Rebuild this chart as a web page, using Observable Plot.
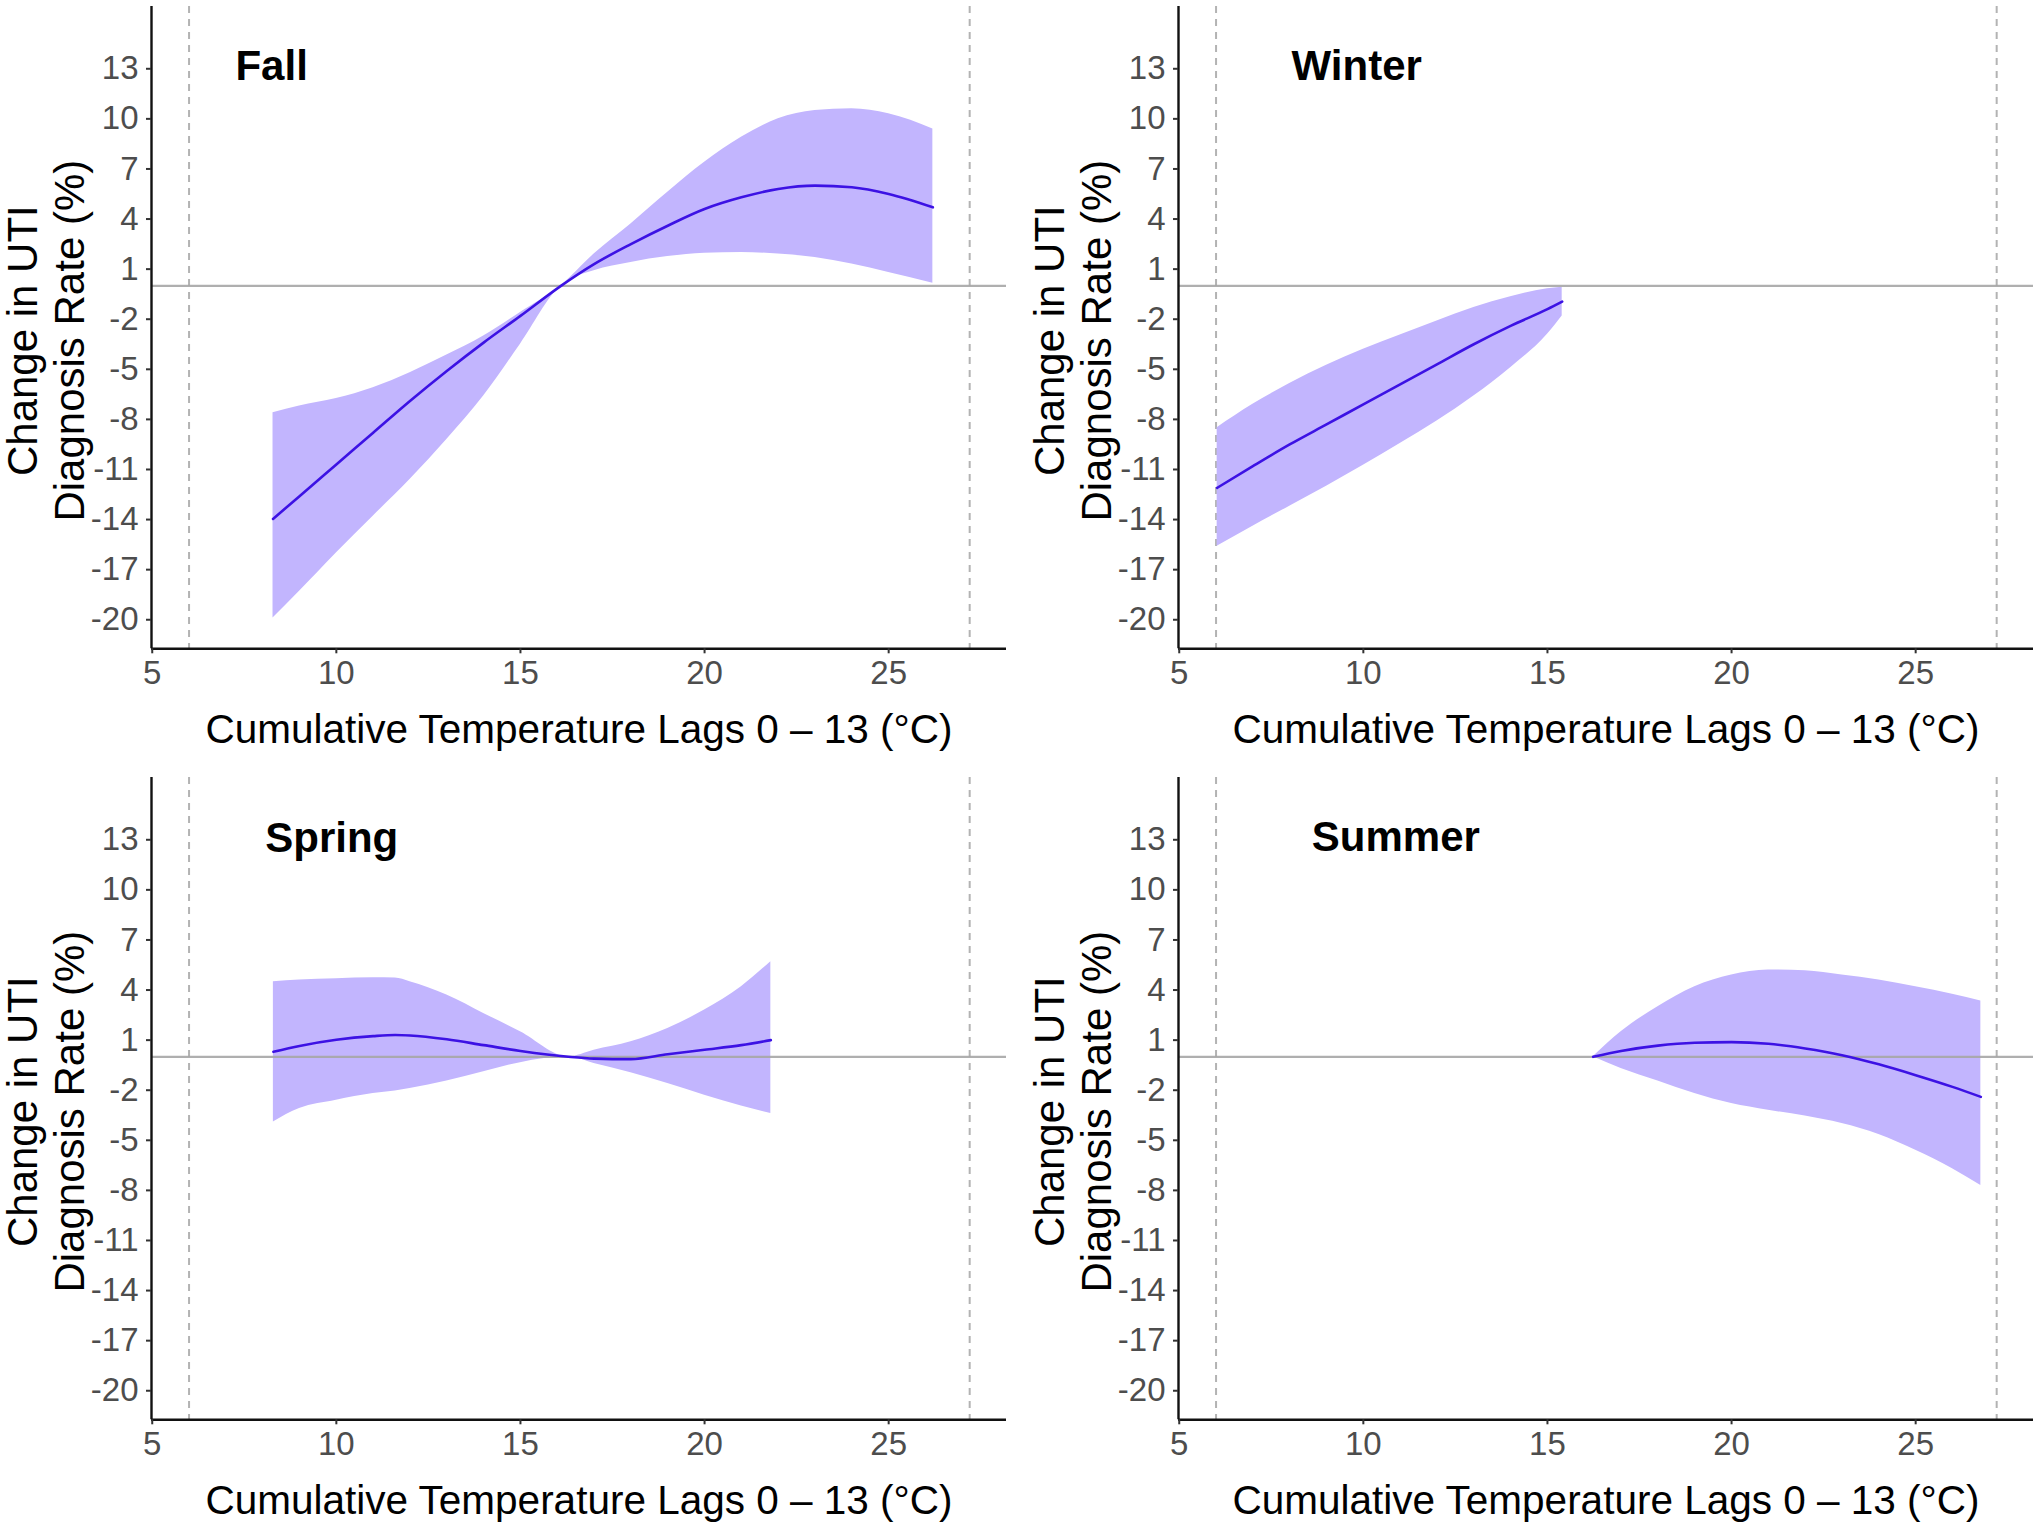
<!DOCTYPE html>
<html>
<head>
<meta charset="utf-8">
<script src="https://cdn.jsdelivr.net/npm/d3@7"></script>
<script src="https://cdn.jsdelivr.net/npm/@observablehq/plot@0.6"></script>
<style>
  html, body { margin: 0; padding: 0; background: #ffffff; }
  #wrap { position: relative; width: 2040px; height: 1530px; overflow: hidden; background: #ffffff; }
  .panel { position: absolute; }
</style>
</head>
<body>
<div id="wrap"></div>
<script>
// ---------- data ----------
const seasons = ["Fall", "Winter", "Spring", "Summer"];

const fallTemp = [8.28, 9, 10, 11, 12, 13, 14, 15, 16.1, 17, 18, 19, 20, 21, 22, 23, 24, 25, 26.2];
const fallFit  = [-13.96, -12.6, -10.7, -8.8, -6.9, -5.1, -3.4, -1.8, 0, 1.3, 2.5, 3.6, 4.6, 5.3, 5.8, 6.0, 5.9, 5.5, 4.7];
const fallLow  = [-19.9, -18.3, -16.0, -13.8, -11.6, -9.2, -6.6, -3.5, 0, 0.9, 1.4, 1.75, 1.95, 2.0, 1.9, 1.7, 1.3, 0.8, 0.15];
const fallHigh = [-7.6, -7.2, -6.75, -6.1, -5.2, -4.15, -3.0, -1.6, 0, 1.9, 3.7, 5.6, 7.4, 8.9, 10.0, 10.5, 10.6, 10.3, 9.4];

const winterTemp = [6.03, 7, 8, 9, 10, 11, 12, 13, 14, 15, 15.4];
const winterFit  = [-12.1, -10.8, -9.5, -8.3, -7.1, -5.9, -4.7, -3.5, -2.4, -1.4, -0.95];
const winterLow  = [-15.6, -14.4, -13.2, -12.0, -10.75, -9.45, -8.1, -6.6, -4.9, -2.9, -1.8];
const winterHigh = [-8.5, -7.1, -5.85, -4.75, -3.8, -2.95, -2.1, -1.3, -0.65, -0.18, -0.08];

const springTemp = [8.29, 9, 10, 11, 11.6, 12, 13, 14, 15, 16.3, 17, 18, 19, 20, 21, 21.8];
const springFit  = [0.3, 0.65, 1.02, 1.24, 1.31, 1.28, 1.05, 0.7, 0.35, 0, -0.11, -0.14, 0.15, 0.42, 0.7, 1.0];
const springLow  = [-3.9, -3.1, -2.6, -2.2, -2.05, -1.9, -1.45, -0.9, -0.35, 0, -0.4, -0.95, -1.6, -2.3, -2.95, -3.4];
const springHigh = [4.5, 4.6, 4.68, 4.74, 4.72, 4.5, 3.7, 2.6, 1.5, 0, 0.4, 0.9, 1.7, 2.8, 4.2, 5.7];

const summerTemp = [16.24, 17, 18, 19, 20, 21, 22, 23, 24, 25, 26, 26.77];
const summerFit  = [0, 0.35, 0.67, 0.84, 0.88, 0.78, 0.5, 0.1, -0.45, -1.1, -1.8, -2.4];
const summerLow  = [0, -0.7, -1.45, -2.2, -2.8, -3.2, -3.55, -4.0, -4.65, -5.6, -6.7, -7.7];
const summerHigh = [0, 1.5, 3.0, 4.2, 4.9, 5.2, 5.15, 4.9, 4.6, 4.2, 3.75, 3.35];

// season label placement (data units: left edge x, baseline y)
const labelX = [7.26, 8.05, 8.07, 8.6];
const labelY = [12.3, 12.3, 12.25, 12.34];

// reference temperature lines (dashed) and axes
const refTemps = [6.0, 27.2];
const xTicks = [5, 10, 15, 20, 25];
const yTicks = [13, 10, 7, 4, 1, -2, -5, -8, -11, -14, -17, -20];
const xDomain = [4.98, 28.2];
const yDomain = [-21.74, 16.73];

const xTitle = "Cumulative Temperature Lags 0 \u2013 13 (\u00B0C)";
const yTitle = "Change in UTI\nDiagnosis Rate (%)";

// ---------- build ----------
const series = {
  Fall:   {t: fallTemp,   f: fallFit,   lo: fallLow,   hi: fallHigh},
  Winter: {t: winterTemp, f: winterFit, lo: winterLow, hi: winterHigh},
  Spring: {t: springTemp, f: springFit, lo: springLow, hi: springHigh},
  Summer: {t: summerTemp, f: summerFit, lo: summerLow, hi: summerHigh}
};

const positions = [[0, 0], [1027, 0], [0, 771], [1027, 771]];
const font = "'Liberation Sans', Arial, Helvetica, sans-serif";
const wrap = document.getElementById("wrap");

seasons.forEach((s, i) => {
  const S = series[s];
  const rows = S.t.map((t, k) => ({t, fit: S.f[k], lo: S.lo[k], hi: S.hi[k]}));
  const chart = Plot.plot({
    width: 1013,
    height: 759,
    marginLeft: 151,
    marginRight: 7,
    marginTop: 6,
    marginBottom: 110.7,
    style: {fontFamily: font, background: "#ffffff", overflow: "visible"},
    x: {domain: xDomain},
    y: {domain: yDomain},
    marks: [
      Plot.ruleX(refTemps, {stroke: "#b3b3b3", strokeWidth: 2, strokeDasharray: "7,6"}),
      Plot.areaY(rows, {x: "t", y1: "lo", y2: "hi", fill: "#c2b5fe", curve: "monotone-x"}),
      Plot.ruleY([0], {stroke: "#a6a6a6", strokeWidth: 2.4, strokeOpacity: 0.9}),
      Plot.line(rows, {x: "t", y: "fit", stroke: "#3c12e4", strokeWidth: 2.6, curve: "monotone-x"}),
      Plot.ruleX([xDomain[0]], {stroke: "#111", strokeWidth: 2.4}),
      Plot.ruleY([yDomain[0]], {stroke: "#111", strokeWidth: 2.4}),
      Plot.axisX({ticks: xTicks, tickSize: 5, tickPadding: 7, fontSize: 33, tickFormat: d => String(d),
                  color: "#4d4d4d", stroke: "#333", strokeWidth: 2, label: null}),
      Plot.axisY({ticks: yTicks, tickSize: 5, tickPadding: 8, fontSize: 33, tickFormat: d => String(d),
                  color: "#4d4d4d", stroke: "#333", strokeWidth: 2, label: null}),
      Plot.text([xTitle], {text: d => d, frameAnchor: "bottom", textAnchor: "middle", dy: 94,
                           lineAnchor: "bottom", fontSize: 40.5, fill: "#000"}),
      Plot.text([yTitle], {text: d => d, frameAnchor: "left", textAnchor: "middle", rotate: -90,
                           dx: -106.5, dy: 13, lineAnchor: "middle", lineHeight: 1.12,
                           fontSize: 42, fill: "#000"}),
      Plot.text([s], {x: () => labelX[i], y: () => labelY[i], text: d => d, textAnchor: "start",
                      lineAnchor: "bottom", fontSize: 42, fontWeight: "bold", fill: "#000"})
    ]
  });
  chart.classList.add("panel");
  chart.style.left = positions[i][0] + "px";
  chart.style.top = positions[i][1] + "px";
  wrap.appendChild(chart);
});
</script>
</body>
</html>
